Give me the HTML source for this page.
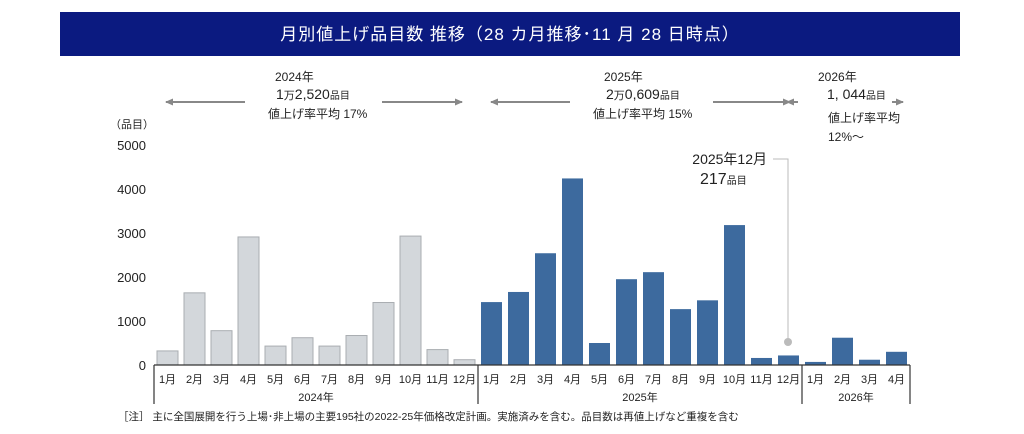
<!DOCTYPE html>
<html><head><meta charset="utf-8">
<style>
html,body{margin:0;padding:0;background:#fff;width:1024px;height:434px;overflow:hidden}
svg text{font-family:"Liberation Sans","Noto Sans CJK JP",sans-serif}
</style></head>
<body>
<svg id="chart" width="1024" height="434" viewBox="0 0 1024 434" xmlns="http://www.w3.org/2000/svg">
<defs>
<marker id="ah" markerUnits="userSpaceOnUse" markerWidth="9" markerHeight="9" refX="7" refY="4.5" orient="auto"><path d="M0,1 L8,4.5 L0,8 z" fill="#888"/></marker>
</defs>
<rect x="60" y="12" width="900" height="44" fill="#0b1a80"/>
<text x="510" y="40" fill="#fff" font-size="17" text-anchor="middle" letter-spacing="1">月別値上げ品目数 推移（28 カ月推移･11 月 28 日時点）</text>

<g fill="#222">
<text x="275" y="81" font-size="12">2024年</text>
<text x="276" y="99" font-size="14">1<tspan font-size="11">万</tspan>2,520<tspan font-size="10">品目</tspan></text>
<text x="268" y="118" font-size="12">値上げ率平均  17%</text>
</g>
<line x1="245" y1="102" x2="166" y2="102" stroke="#888" stroke-width="2" marker-end="url(#ah)"/>
<line x1="382" y1="102" x2="462" y2="102" stroke="#888" stroke-width="2" marker-end="url(#ah)"/>
<g fill="#222">
<text x="604" y="81" font-size="12">2025年</text>
<text x="606" y="99" font-size="14">2<tspan font-size="11">万</tspan>0,609<tspan font-size="10">品目</tspan></text>
<text x="593" y="118" font-size="12">値上げ率平均  15%</text>
</g>
<line x1="570" y1="102" x2="491" y2="102" stroke="#888" stroke-width="2" marker-end="url(#ah)"/>
<line x1="713" y1="102" x2="790" y2="102" stroke="#888" stroke-width="2" marker-end="url(#ah)"/>
<g fill="#222">
<text x="818" y="81" font-size="12">2026年</text>
<text x="827" y="99" font-size="14">1, 044<tspan font-size="10">品目</tspan></text>
<text x="828" y="122" font-size="12">値上げ率平均</text>
<text x="828" y="141" font-size="12">12%～</text>
</g>
<line x1="798" y1="102" x2="787" y2="102" stroke="#888" stroke-width="2" marker-end="url(#ah)"/>
<line x1="892" y1="102" x2="903" y2="102" stroke="#888" stroke-width="2" marker-end="url(#ah)"/>

<text x="110" y="128" font-size="11" fill="#222">（品目）</text>
<g id="yticks"></g>
<g id="bars"></g>
<g id="xaxis"></g>

<g>
<text x="767" y="164" font-size="14" fill="#222" text-anchor="end">2025年12月</text>
<text x="700" y="184" font-size="16" fill="#222">217<tspan font-size="10">品目</tspan></text>
<polyline points="773,159 788,159 788,342" fill="none" stroke="#bbb" stroke-width="1"/>
<circle cx="788" cy="342" r="4" fill="#bbb"/>
</g>
<text x="118" y="420" font-size="10.5" fill="#222">［注］ 主に全国展開を行う上場･非上場の主要195社の2022-25年価格改定計画。実施済みを含む。品目数は再値上げなど重複を含む</text>
</svg>
<script>
const months=["1月","2月","3月","4月","5月","6月","7月","8月","9月","10月","11月","12月","1月","2月","3月","4月","5月","6月","7月","8月","9月","10月","11月","12月","1月","2月","3月","4月"];
const values2024=[320,1640,780,2910,430,620,430,670,1420,2930,350,120];
const values2025=[1430,1660,2540,4240,500,1950,2110,1270,1470,3180,160,217];
const values2026=[70,620,120,300];
const yTicks=[0,1000,2000,3000,4000,5000];
const years=["2024年","2025年","2026年"];
const yearCounts=[12,12,4];

const NS="http://www.w3.org/2000/svg";
const X0=154, SLOT=27, BW=21, Y0=365, YMAX=5000, YH=220;
const y=v=>Y0-v/YMAX*YH;
const x=i=>X0+i*SLOT;
function mk(tag,attrs,parent){const e=document.createElementNS(NS,tag);for(const k in attrs)e.setAttribute(k,attrs[k]);parent.appendChild(e);return e;}

const yg=document.getElementById('yticks');
yTicks.forEach(t=>{
  const tx=mk('text',{x:146,y:y(t)+5,'font-size':13,fill:'#222','text-anchor':'end'},yg);
  
  
  tx.textContent=t;
});

const bg=document.getElementById('bars');
const all=[...values2024,...values2025,...values2026];
all.forEach((v,i)=>{
  const gray=i<12;
  const r=mk('rect',{x:x(i)+3,y:y(v),width:BW,height:Y0-y(v),fill:gray?'#d3d7db':'#3d6a9e',stroke:gray?'#a9adb1':'#3d6a9e','stroke-width':gray?1:0},bg);
  
  
});

const xg=document.getElementById('xaxis');
const ax=mk('line',{x1:X0,y1:Y0,x2:x(28),y2:Y0,stroke:'#333','stroke-width':1.2},xg);


months.forEach((m,i)=>{
  const t=mk('text',{x:x(i)+SLOT/2,y:383,'font-size':11,fill:'#222','text-anchor':'middle'},xg);
  
  
  t.textContent=m;
});
let start=0;
const bounds=[0];
yearCounts.forEach(c=>{start+=c;bounds.push(start);});
bounds.forEach(b=>{
  const l=mk('line',{x1:x(b),y1:Y0,x2:x(b),y2:404,stroke:'#333','stroke-width':1.2},xg);
  
  
});
years.forEach((yr,k)=>{
  const t=mk('text',{x:(x(bounds[k])+x(bounds[k+1]))/2,y:401,'font-size':11,fill:'#222','text-anchor':'middle'},xg);
  
  
  t.textContent=yr;
});
</script>
</body></html>
